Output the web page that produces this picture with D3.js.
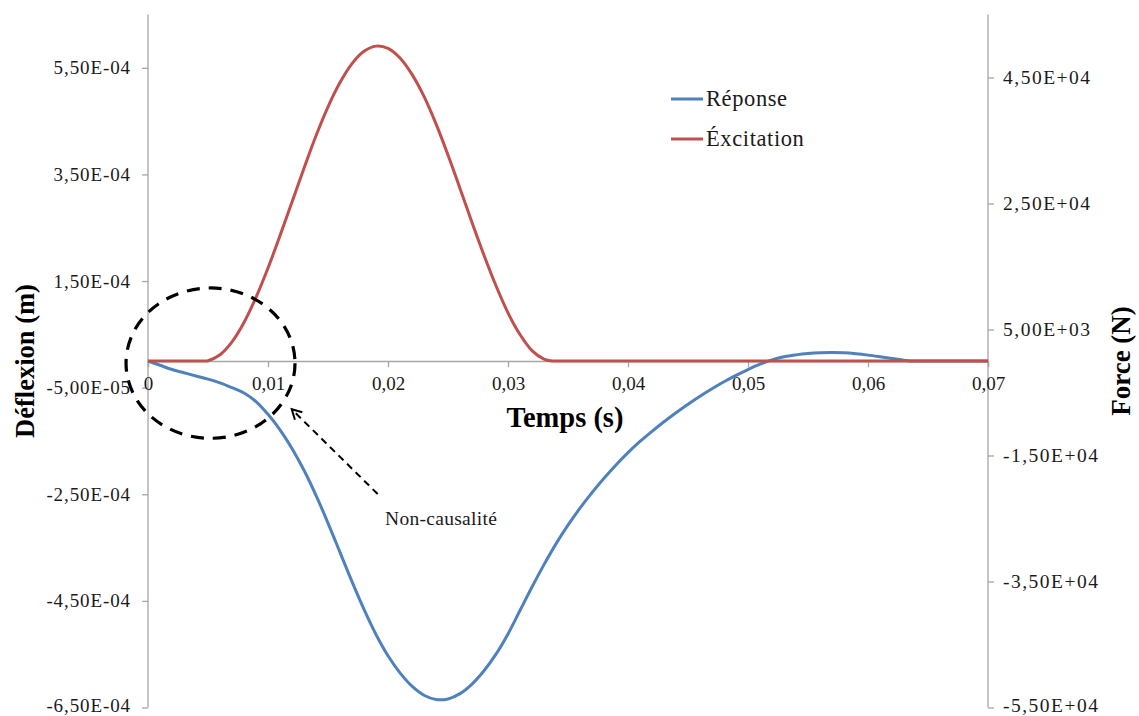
<!DOCTYPE html>
<html>
<head>
<meta charset="utf-8">
<script src="https://cdn.jsdelivr.net/npm/d3@7"></script>
<style>
  html, body { margin: 0; padding: 0; background: #fff; }
  svg { display: block; }
  text { font-family: "Liberation Serif", "DejaVu Serif", serif; }
</style>
</head>
<body>
<svg id="chart" width="1139" height="716"></svg>
<script>
// ---- Data ----
const responseTime = [0, 0.001, 0.002, 0.003, 0.004, 0.005, 0.006, 0.007, 0.008, 0.009,
  0.010, 0.011, 0.012, 0.013, 0.014, 0.015, 0.016, 0.017, 0.018, 0.019,
  0.020, 0.021, 0.022, 0.023, 0.024, 0.025, 0.026, 0.027, 0.028, 0.029,
  0.030, 0.031, 0.032, 0.033, 0.034, 0.035, 0.036, 0.037, 0.038, 0.039,
  0.040, 0.041, 0.042, 0.043, 0.044, 0.045, 0.046, 0.047, 0.048, 0.049,
  0.050, 0.051, 0.052, 0.053, 0.054, 0.055, 0.056, 0.057, 0.058, 0.059,
  0.060, 0.061, 0.062, 0.063, 0.0635, 0.064, 0.065, 0.067, 0.070];
const responseValues = [0, -0.8e-5, -1.6e-5, -2.2e-5, -2.8e-5, -3.4e-5, -4.1e-5, -5.0e-5, -6.0e-5, -7.6e-5,
  -1.0e-4, -1.29e-4, -1.64e-4, -2.05e-4, -2.52e-4, -3.04e-4, -3.59e-4, -4.14e-4, -4.66e-4, -5.13e-4,
  -5.53e-4, -5.85e-4, -6.10e-4, -6.27e-4, -6.35e-4, -6.34e-4, -6.24e-4, -6.06e-4, -5.81e-4, -5.50e-4,
  -5.12e-4, -4.68e-4, -4.24e-4, -3.82e-4, -3.43e-4, -3.08e-4, -2.76e-4, -2.47e-4, -2.20e-4, -1.95e-4,
  -1.72e-4, -1.51e-4, -1.32e-4, -1.14e-4, -0.97e-4, -0.81e-4, -0.66e-4, -0.52e-4, -0.39e-4, -0.27e-4,
  -0.16e-4, -0.06e-4, 0.02e-4, 0.08e-4, 0.115e-4, 0.14e-4, 0.155e-4, 0.16e-4, 0.153e-4, 0.135e-4,
  0.11e-4, 0.08e-4, 0.048e-4, 0.015e-4, 0, 0, 0, 0, 0];

const excitationTime = [0, 0.002, 0.004, 0.0047, 0.005, 0.006, 0.007, 0.008, 0.009, 0.010, 0.011, 0.012,
  0.013, 0.014, 0.015, 0.016, 0.017, 0.018, 0.019, 0.020, 0.021, 0.022,
  0.023, 0.024, 0.025, 0.026, 0.027, 0.028, 0.029, 0.030, 0.031, 0.032,
  0.033, 0.0337, 0.034, 0.035, 0.037, 0.040, 0.045, 0.050, 0.055, 0.060, 0.065, 0.070];
const excitationValues = [0, 0, 0, 0, 50, 990, 3040, 6120, 10100, 14750, 19900, 25250,
  30600, 35750, 40350, 44200, 47200, 49150, 49980, 49620, 48100, 45500,
  42000, 37650, 32700, 27400, 22000, 16800, 11950, 7650, 4200, 1650,
  290, 0, 0, 0, 0, 0, 0, 0, 0, 0, 0, 0];

const xTicks = [0, 0.01, 0.02, 0.03, 0.04, 0.05, 0.06, 0.07];
const xTickLabels = ["0", "0,01", "0,02", "0,03", "0,04", "0,05", "0,06", "0,07"];
const leftTicks = [5.5e-4, 3.5e-4, 1.5e-4, -5e-5, -2.5e-4, -4.5e-4, -6.5e-4];
const leftTickLabels = ["5,50E-04", "3,50E-04", "1,50E-04", "-5,00E-05", "-2,50E-04", "-4,50E-04", "-6,50E-04"];
const rightTicks = [4.5e4, 2.5e4, 5e3, -1.5e4, -3.5e4, -5.5e4];
const rightTickLabels = ["4,50E+04", "2,50E+04", "5,00E+03", "-1,50E+04", "-3,50E+04", "-5,50E+04"];
const seriesNames = ["Réponse", "Éxcitation"];

// annotation (data units)
const circleCenter = [0.00521, -4e-6];
const circleRadius = [0.00704, 1.41e-4];
const arrowFrom = [0.01914, -2.495e-4];
const arrowTo = [0.01198, -0.906e-4];
const noteText = "Non-causalité";
const notePos = [0.01975, -2.96e-4];

// ---- Layout ----
const svg = d3.select("#chart");
const plot = { left: 148, right: 988, top: 14.5, bottom: 707.5 };
const blue = "#4F81BD", red = "#C0504D", axisColor = "#A6A6A6", textColor = "#1a1a1a";

const x = d3.scaleLinear().domain([0, 0.07]).range([plot.left, plot.right]);
const yL = d3.scaleLinear().domain([-6.5e-4, 6.5e-4]).range([plot.bottom, plot.top]);
const yR = d3.scaleLinear().domain([-5.5e4, 5.5e4]).range([plot.bottom, plot.top]);

// Left axis
const leftAxis = d3.axisLeft(yL).tickValues(leftTicks)
  .tickFormat((d, i) => leftTickLabels[i]).tickSizeOuter(0).tickSize(6).tickPadding(11);
const gL = svg.append("g").attr("transform", `translate(${plot.left},0)`).call(leftAxis);
gL.select(".domain").remove();
gL.append("line").attr("x1", 0).attr("x2", 0).attr("y1", plot.top).attr("y2", plot.bottom)
  .attr("stroke", axisColor).attr("stroke-width", 1.3);

// Right axis
const rightAxis = d3.axisRight(yR).tickValues(rightTicks)
  .tickFormat((d, i) => rightTickLabels[i]).tickSizeOuter(0).tickSize(6).tickPadding(9);
const gR = svg.append("g").attr("transform", `translate(${plot.right},0)`).call(rightAxis);
gR.select(".domain").remove();
gR.append("line").attr("x1", 0).attr("x2", 0).attr("y1", plot.top).attr("y2", plot.bottom)
  .attr("stroke", axisColor).attr("stroke-width", 1.3);

// X axis at zero
const xAxis = d3.axisBottom(x).tickValues(xTicks)
  .tickFormat((d, i) => xTickLabels[i]).tickSizeOuter(0).tickSize(6).tickPadding(10);
const gX = svg.append("g").attr("transform", `translate(0,${yL(0)})`).call(xAxis);
gX.select(".domain").attr("stroke", axisColor).attr("stroke-width", 1.3);

[gL, gR, gX].forEach(g => {
  g.selectAll(".tick line").attr("stroke", axisColor).attr("stroke-width", 1.3);
  g.selectAll(".tick text").attr("fill", textColor)
    .style("font-family", '"Liberation Serif", serif').style("font-size", "19px");
});
gL.selectAll(".tick text").style("letter-spacing", "0.9px");
gR.selectAll(".tick text").style("font-size", "19.5px").style("letter-spacing", "1.5px");
// keep the bottom-most labels inside the picture
gL.selectAll(".tick text").filter(d => d === -6.5e-4).attr("dy", "0.2em");
gR.selectAll(".tick text").filter(d => d === -5.5e4).attr("dy", "0.2em");

// Curves
const respData = responseTime.map((t, i) => [t, responseValues[i]]);
const excData = excitationTime.map((t, i) => [t, excitationValues[i]]);

svg.append("path").datum(respData)
  .attr("fill", "none").attr("stroke", blue).attr("stroke-width", 3)
  .attr("stroke-linejoin", "round")
  .attr("d", d3.line().x(d => x(d[0])).y(d => yL(d[1])).curve(d3.curveCatmullRom.alpha(0.5)));

svg.append("path").datum(excData)
  .attr("fill", "none").attr("stroke", red).attr("stroke-width", 3)
  .attr("stroke-linejoin", "round")
  .attr("d", d3.line().x(d => x(d[0])).y(d => yR(d[1])).curve(d3.curveCatmullRom.alpha(0.5)));

// Axis titles
svg.append("text").text("Déflexion (m)")
  .attr("transform", `translate(34,${(plot.top + plot.bottom) / 2}) rotate(-90)`)
  .attr("text-anchor", "middle").attr("font-weight", "bold").attr("font-size", 26.5).attr("fill", "#000");
svg.append("text").text("Force (N)")
  .attr("transform", `translate(1130,${(plot.top + plot.bottom) / 2}) rotate(-90)`)
  .attr("text-anchor", "middle").attr("font-weight", "bold").attr("font-size", 27).attr("fill", "#000");
svg.append("text").text("Temps (s)")
  .attr("x", (plot.left + plot.right) / 2 - 3).attr("y", 427)
  .attr("text-anchor", "middle").attr("font-weight", "bold").attr("font-size", 28.5).attr("fill", "#000");

// Legend
const legend = svg.append("g");
[blue, red].forEach((c, i) => {
  const ly = 99 + i * 40;
  legend.append("line").attr("x1", 671).attr("x2", 703).attr("y1", ly).attr("y2", ly)
    .attr("stroke", c).attr("stroke-width", 3);
  legend.append("text").text(seriesNames[i]).attr("x", 706).attr("y", ly + 7)
    .attr("font-size", 22.5).style("letter-spacing", "0.6px").attr("fill", textColor);
});

// Annotation: dashed ellipse
svg.append("ellipse")
  .attr("cx", x(circleCenter[0])).attr("cy", yL(circleCenter[1]))
  .attr("rx", x(circleRadius[0]) - x(0)).attr("ry", yL(0) - yL(circleRadius[1]))
  .attr("fill", "none").attr("stroke", "#000").attr("stroke-width", 3.2)
  .attr("stroke-dasharray", "13 9");

// Arrow
const ax1 = x(arrowFrom[0]), ay1 = yL(arrowFrom[1]);
const ax2 = x(arrowTo[0]), ay2 = yL(arrowTo[1]);
svg.append("line").attr("x1", ax1).attr("y1", ay1).attr("x2", ax2).attr("y2", ay2)
  .attr("stroke", "#000").attr("stroke-width", 2).attr("stroke-dasharray", "7 5");
const ang = Math.atan2(ay1 - ay2, ax1 - ax2);
const hl = 11, spread = 0.5;
svg.append("path")
  .attr("d", `M${ax2 + hl * Math.cos(ang - spread)},${ay2 + hl * Math.sin(ang - spread)} L${ax2},${ay2} L${ax2 + hl * Math.cos(ang + spread)},${ay2 + hl * Math.sin(ang + spread)}`)
  .attr("fill", "none").attr("stroke", "#000").attr("stroke-width", 2);

svg.append("text").text(noteText)
  .attr("x", x(notePos[0])).attr("y", yL(notePos[1]) + 6)
  .attr("font-size", 19.5).style("letter-spacing", "0.3px").attr("fill", textColor);
</script>
</body>
</html>
